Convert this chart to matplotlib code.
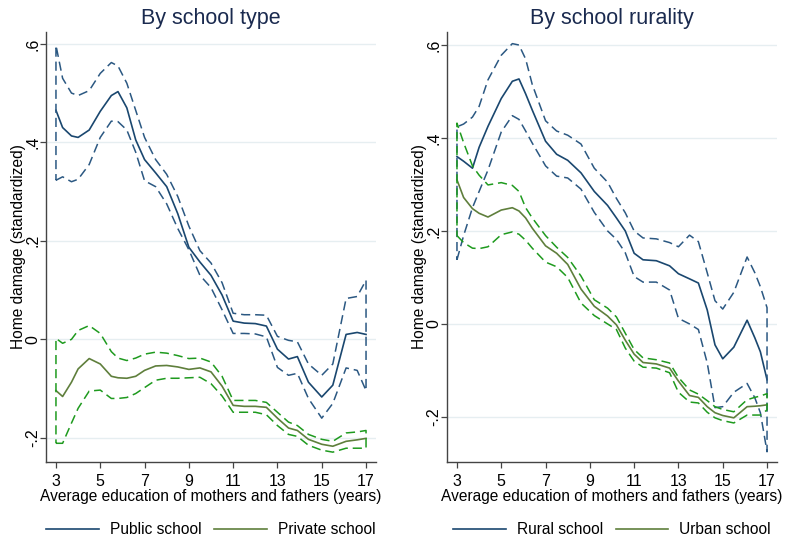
import matplotlib
matplotlib.use("Agg")
import matplotlib.pyplot as plt
import numpy as np

plt.rcParams['font.family'] = ['Liberation Sans', 'DejaVu Sans']

# ---------------- Data: left panel (by school type) ----------------
x_left = [3, 3.3, 3.7, 4, 4.5, 5, 5.5, 5.8, 6.2, 6.6, 7, 7.5, 8, 8.5, 9, 9.5, 10,
          10.5, 11, 11.5, 12, 12.5, 13, 13.5, 13.9, 14.4, 15, 15.5, 16.1, 16.6, 17]
public_mean = [0.465, 0.43, 0.413, 0.41, 0.425, 0.463, 0.495, 0.503, 0.47, 0.405, 0.365,
               0.338, 0.31, 0.255, 0.187, 0.157, 0.13, 0.09, 0.037, 0.033, 0.032, 0.027,
               -0.02, -0.04, -0.035, -0.087, -0.117, -0.093, 0.01, 0.014, 0.01]
public_upper = [0.597, 0.53, 0.50, 0.495, 0.505, 0.54, 0.562, 0.555, 0.52, 0.465, 0.41,
                0.365, 0.335, 0.29, 0.23, 0.18, 0.155, 0.115, 0.053, 0.05, 0.05, 0.049,
                0.006, -0.002, -0.005, -0.05, -0.073, -0.05, 0.083, 0.087, 0.12]
public_lower = [0.323, 0.33, 0.32, 0.325, 0.355, 0.41, 0.443, 0.442, 0.425, 0.38, 0.322,
                0.31, 0.275, 0.225, 0.182, 0.13, 0.105, 0.06, 0.012, 0.012, 0.011, 0.005,
                -0.057, -0.073, -0.069, -0.12, -0.16, -0.13, -0.058, -0.063, -0.104]
private_mean = [-0.104, -0.116, -0.087, -0.06, -0.039, -0.05, -0.075, -0.078, -0.079, -0.075,
                -0.063, -0.054, -0.053, -0.056, -0.061, -0.058, -0.066, -0.095, -0.134,
                -0.136, -0.136, -0.138, -0.16, -0.18, -0.185, -0.203, -0.213, -0.217,
                -0.207, -0.204, -0.201]
private_upper = [0.002, -0.008, 0.0, 0.018, 0.028, 0.012, -0.025, -0.038, -0.043, -0.038,
                 -0.03, -0.026, -0.028, -0.033, -0.039, -0.038, -0.046, -0.075, -0.124,
                 -0.124, -0.124, -0.128, -0.148, -0.168, -0.175, -0.193, -0.203, -0.207,
                 -0.19, -0.188, -0.185]
private_lower = [-0.211, -0.211, -0.17, -0.14, -0.105, -0.103, -0.12, -0.12, -0.118, -0.11,
                 -0.098, -0.083, -0.079, -0.079, -0.078, -0.077, -0.09, -0.115, -0.148,
                 -0.148, -0.148, -0.153, -0.175, -0.193, -0.197, -0.215, -0.225, -0.229,
                 -0.221, -0.221, -0.221]

# ---------------- Data: right panel (by school rurality) ----------------
x_right = [3, 3.3, 3.7, 4, 4.4, 5, 5.5, 5.8, 6.1, 6.4, 7, 7.5, 8, 8.6, 9.2, 9.8, 10.2,
           10.6, 11, 11.4, 12, 12.6, 13, 13.5, 13.9, 14.3, 14.65, 15, 15.5, 16.1, 16.45,
           16.7, 17]
rural_mean = [0.36, 0.35, 0.335, 0.38, 0.425, 0.485, 0.522, 0.527, 0.495, 0.46, 0.393,
              0.365, 0.352, 0.325, 0.285, 0.255, 0.228, 0.2, 0.152, 0.138, 0.136, 0.125,
              0.108, 0.097, 0.088, 0.03, -0.045, -0.075, -0.05, 0.008, -0.03, -0.06, -0.12]
rural_upper = [0.424, 0.43, 0.445, 0.468, 0.525, 0.578, 0.603, 0.6, 0.57, 0.515, 0.437,
               0.415, 0.406, 0.387, 0.335, 0.305, 0.27, 0.239, 0.2, 0.185, 0.183, 0.175,
               0.166, 0.191, 0.177, 0.11, 0.05, 0.032, 0.068, 0.144, 0.11, 0.08, 0.035]
rural_lower = [0.138, 0.19, 0.25, 0.285, 0.331, 0.413, 0.448, 0.44, 0.415, 0.389, 0.34,
               0.318, 0.314, 0.29, 0.24, 0.2, 0.182, 0.153, 0.102, 0.09, 0.09, 0.073,
               0.012, 0.0, -0.012, -0.084, -0.18, -0.178, -0.147, -0.128, -0.159, -0.191,
               -0.275]
urban_mean = [0.31, 0.272, 0.248, 0.238, 0.23, 0.245, 0.25, 0.243, 0.228, 0.206, 0.168,
              0.152, 0.128, 0.075, 0.038, 0.017, -0.002, -0.035, -0.065, -0.083, -0.086,
              -0.095, -0.123, -0.154, -0.158, -0.178, -0.191, -0.197, -0.202, -0.178,
              -0.177, -0.176, -0.174]
urban_upper = [0.432, 0.39, 0.34, 0.32, 0.299, 0.304, 0.298, 0.285, 0.25, 0.228, 0.19,
               0.165, 0.143, 0.103, 0.052, 0.034, 0.015, -0.02, -0.055, -0.073, -0.077,
               -0.084, -0.115, -0.142, -0.151, -0.165, -0.178, -0.184, -0.189, -0.163,
               -0.158, -0.155, -0.15]
urban_lower = [0.19, 0.175, 0.163, 0.162, 0.166, 0.192, 0.198, 0.193, 0.18, 0.163, 0.133,
               0.123, 0.1, 0.045, 0.018, 0.0, -0.012, -0.052, -0.08, -0.093, -0.095,
               -0.105, -0.147, -0.168, -0.17, -0.19, -0.202, -0.208, -0.213, -0.196,
               -0.196, -0.196, -0.185]

x_ticks = [3, 5, 7, 9, 11, 13, 15, 17]
y_ticks = [-0.2, 0, 0.2, 0.4, 0.6]
y_ticklabels = ["-.2", "0", ".2", ".4", ".6"]

titles = ["By school type", "By school rurality"]
xlabel = "Average education of mothers and fathers (years)"
ylabel = "Home damage (standardized)"

NAVY = "#1a476f"
NAVY_CI = "#2b5882"
OLIVE = "#5f7f3c"
GREEN_CI = "#1e9a1e"
GRID = "#e6eef1"
SPINE = "#444444"
FS = 11.2

fig = plt.figure(figsize=(7.86, 5.43), dpi=100)
fig.patch.set_facecolor("white")

W, H = 786.0, 543.0
axL = fig.add_axes([46 / W, 1 - 462 / H, 330 / W, 430 / H])
axR = fig.add_axes([447 / W, 1 - 462 / H, 330 / W, 430 / H])


def ci_path(x, lo, up):
    x = np.asarray(x, float)
    lo = np.asarray(lo, float)
    up = np.asarray(up, float)
    xx = np.concatenate([x, x[::-1], x[:1]])
    yy = np.concatenate([lo, up[::-1], lo[:1]])
    return xx, yy


def draw_panel(ax, x, s1, s2, names, title, ylim):
    m1, u1, l1 = s1
    m2, u2, l2 = s2
    dash = (0, (6.0, 3.2))
    h1, = ax.plot(x, m1, color=NAVY, lw=1.2, zorder=3, label=names[0])
    xx, yy = ci_path(x, l1, u1)
    ax.plot(xx, yy, color=NAVY_CI, lw=1.1, ls=dash, zorder=3)
    h2, = ax.plot(x, m2, color=OLIVE, lw=1.2, zorder=4, label=names[1])
    xx, yy = ci_path(x, l2, u2)
    ax.plot(xx, yy, color=GREEN_CI, lw=1.1, ls=dash, zorder=4)

    ax.set_xlim(2.55, 17.45)
    ax.set_ylim(*ylim)
    ax.set_xticks(x_ticks)
    ax.set_yticks(y_ticks)
    ax.set_yticklabels(y_ticklabels)
    ax.grid(axis='y', color=GRID, lw=1.0, zorder=0)
    ax.set_axisbelow(True)
    for sp in ["top", "right"]:
        ax.spines[sp].set_visible(False)
    for sp in ["left", "bottom"]:
        ax.spines[sp].set_color(SPINE)
        ax.spines[sp].set_linewidth(1.0)
    ax.tick_params(axis='both', colors=SPINE, labelcolor="black", length=4.5,
                   width=0.9, labelsize=FS + 0.3)
    ax.tick_params(axis='x', pad=4)
    ax.tick_params(axis='y', pad=5)
    for lab in ax.get_yticklabels():
        lab.set_rotation(90)
        lab.set_va("center")
        lab.set_ha("center")
    ax.set_title(title, fontsize=15.5, color="#1a2a4f", pad=6)
    ax.set_xlabel(xlabel, fontsize=FS, labelpad=0)
    ax.set_ylabel(ylabel, fontsize=FS)
    ax.yaxis.set_label_coords(-0.062, 0.5)
    ax.legend(handles=[h1, h2], loc="upper center", bbox_to_anchor=(0.5, -0.108),
              ncol=2, frameon=False, fontsize=FS, handlelength=3.4,
              columnspacing=0.8, handletextpad=0.7)


draw_panel(axL, x_left, (public_mean, public_upper, public_lower),
           (private_mean, private_upper, private_lower),
           ["Public school", "Private school"], titles[0], (-0.249, 0.624))
draw_panel(axR, x_right, (rural_mean, rural_upper, rural_lower),
           (urban_mean, urban_upper, urban_lower),
           ["Rural school", "Urban school"], titles[1], (-0.297, 0.628))

fig.savefig("out.png", dpi=100, facecolor="white")
